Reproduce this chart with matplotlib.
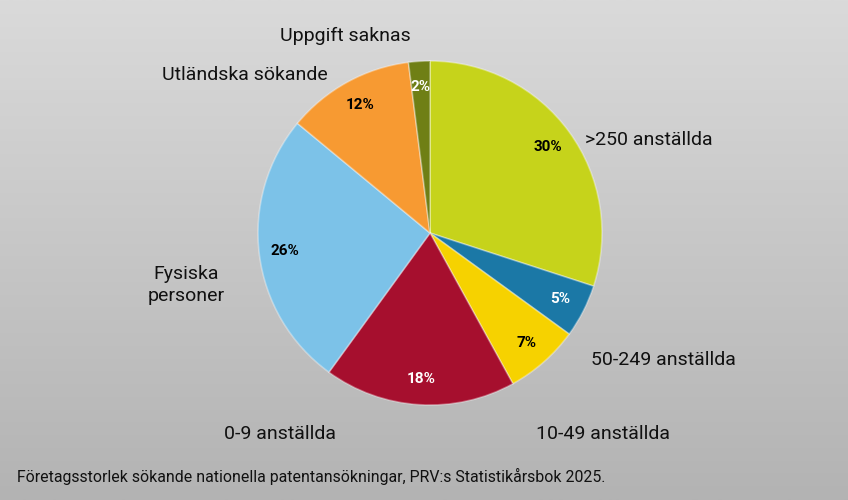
import numpy as np
import matplotlib
matplotlib.use("Agg")
import matplotlib.pyplot as plt

# data, clockwise from 12 o'clock
categories = [">250 anställda", "50-249 anställda", "10-49 anställda", "0-9 anställda",
              "Fysiska\npersoner", "Utländska sökande", "Uppgift saknas"]
shares = [30, 5, 7, 18, 26, 12, 2]
colors = ["#c6d31b", "#1b78a6", "#f6d200", "#a60f2e", "#7cc2e8", "#f79a32", "#6f7f15"]
pct_colors = ["black", "white", "black", "white", "black", "black", "white"]
footnote = "Företagsstorlek sökande nationella patentansökningar, PRV:s Statistikårsbok 2025."

# outer label placement (pixel coords, anchor)
label_pos = [(585, 140, "left"), (591, 360, "left"), (536, 434, "left"), (280, 434, "center"),
             (186, 285, "center"), (245, 75, "center"), (345, 36, "center")]

plt.rcParams["font.family"] = ["Roboto", "DejaVu Sans"]

W, H = 848, 500
fig = plt.figure(figsize=(W / 100, H / 100), dpi=100)
ax = fig.add_axes([0, 0, 1, 1])

# grey vertical gradient background
grad = np.linspace(0, 1, 256).reshape(-1, 1)
ax.imshow(grad, extent=(0, W, H, 0), cmap=matplotlib.colors.LinearSegmentedColormap.from_list(
    "bg", ["#dadada", "#b3b3b3"]), aspect="auto", zorder=0)

cx, cy, r = 430, 233, 172
# y axis points down, so counterclock=True draws clockwise on screen; start at top
wedges, texts, autotexts = ax.pie(
    shares, colors=colors, center=(cx, cy), radius=r, startangle=-90, counterclock=True,
    autopct="%d%%", pctdistance=0.85,
    wedgeprops=dict(edgecolor=(1, 1, 1, 0.35), linewidth=1.2),
    textprops=dict(fontsize=11, fontweight="bold"), frame=True)
ax.set_xlim(0, W)
ax.set_ylim(H, 0)
ax.set_aspect("equal")
ax.axis("off")

for t, c in zip(autotexts, pct_colors):
    t.set_color(c)

for name, (x, y, ha) in zip(categories, label_pos):
    ax.text(x, y, name, fontsize=14, ha=ha, va="center", color="#111111", linespacing=1.35)

ax.text(17, 476, footnote, fontsize=11.4, ha="left", va="center", color="#111111")

fig.savefig("out.png", dpi=100)
